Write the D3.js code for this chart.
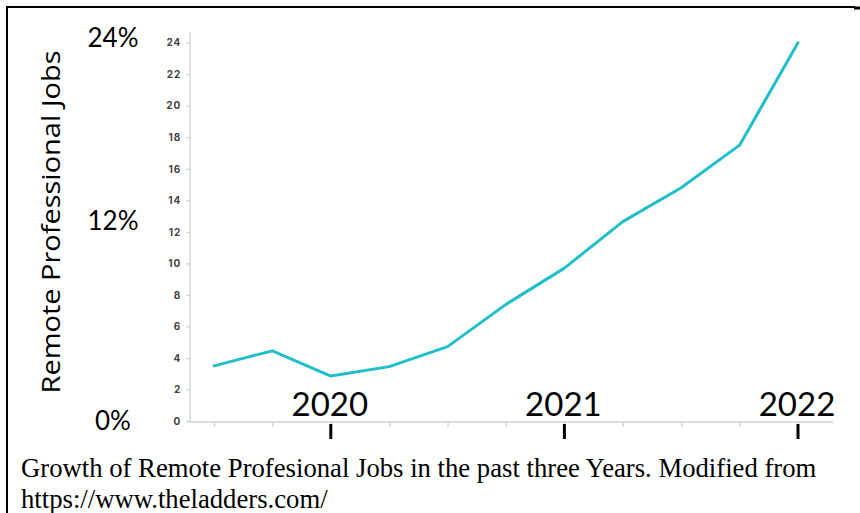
<!DOCTYPE html>
<html>
<head>
<meta charset="utf-8">
<script src="https://cdn.jsdelivr.net/npm/d3@7"></script>
<style>
  html, body { margin: 0; padding: 0; background: #fff; }
  svg { display: block; }
</style>
</head>
<body>
<svg id="chart" width="860" height="513"></svg>
<script>
// ---- data ----
const quarters = ["2019 Q3","2019 Q4","2020 Q1","2020 Q2","2020 Q3","2020 Q4","2021 Q1","2021 Q2","2021 Q3","2021 Q4","2022 Q1"];
const remoteJobs = [3.5, 4.45, 2.85, 3.45, 4.72, 7.4, 9.7, 12.65, 14.8, 17.5, 24.0];
const yTicks = [0, 2, 4, 6, 8, 10, 12, 14, 16, 18, 20, 22, 24];
const yearLabels = ["2020", "2021", "2022"];
const yearQuarters = ["2020 Q1", "2021 Q1", "2022 Q1"];
const pctValues = [24, 12, 0];
const pctLabels = ["24%", "12%", "0%"];
const yTitle = "Remote Professional Jobs";
const captionLines = ["Growth of Remote Profesional Jobs in the past three Years. Modified from", "https://www.theladders.com/"];

// ---- layout ----
const svg = d3.select("#chart");
const axisX0 = 190, axisX1 = 833, axisYTop = 32;
const x = d3.scalePoint().domain(quarters).range([214, 798]);
const y = d3.scaleLinear().domain([0, 24]).range([421, 42.7]);
const pctY = d3.scaleLinear().domain([0, 12, 24]).range([430, 230, 47]);

// frame
svg.append("line").attr("x1", 7).attr("y1", 6).attr("x2", 7).attr("y2", 513)
  .attr("stroke", "#000").attr("stroke-width", 2);
svg.append("line").attr("x1", 6).attr("y1", 7).attr("x2", 855).attr("y2", 7)
  .attr("stroke", "#000").attr("stroke-width", 2);
svg.append("line").attr("x1", 854).attr("y1", 8).attr("x2", 860).attr("y2", 8)
  .attr("stroke", "#000").attr("stroke-width", 3);

// y axis
const yAxis = d3.axisLeft(y).tickValues(yTicks).tickSize(4).tickPadding(5);
const gy = svg.append("g").attr("transform", `translate(${axisX0},0)`).call(yAxis);
gy.select(".domain").remove();
gy.selectAll(".tick line").attr("stroke", "#ccc");
gy.selectAll(".tick text").attr("fill", "#444")
  .style("font-family", "Inter, 'Open Sans', sans-serif")
  .style("font-weight", "700").style("font-size", "10px")
  .style("letter-spacing", "0.8px");
svg.append("line").attr("x1", axisX0).attr("x2", axisX0)
  .attr("y1", axisYTop).attr("y2", y(0))
  .attr("stroke", "#d0d0d0").attr("stroke-width", 1.3);

// x axis
const xAxis = d3.axisBottom(x).tickSize(5).tickFormat("");
const gx = svg.append("g").attr("transform", `translate(0,${y(0) + 1})`).call(xAxis);
gx.select(".domain").remove();
gx.selectAll(".tick line").attr("stroke", "#ccc").attr("stroke-width", 1.2);
svg.append("line").attr("x1", axisX0).attr("x2", axisX1)
  .attr("y1", y(0) + 1).attr("y2", y(0) + 1)
  .attr("stroke", "#d0d0d0").attr("stroke-width", 1.3);

// major year ticks
svg.selectAll(".yeartick").data(yearQuarters).enter().append("line")
  .attr("class", "yeartick")
  .attr("x1", d => x(d)).attr("x2", d => x(d))
  .attr("y1", y(0) + 3).attr("y2", y(0) + 18)
  .attr("stroke", "#000").attr("stroke-width", 3);

// year labels
svg.selectAll(".yearlabel").data(yearLabels).enter().append("text")
  .attr("class", "yearlabel")
  .attr("x", (d, i) => x(yearQuarters[i]) - 1)
  .attr("y", y(0) - 5)
  .attr("text-anchor", "middle")
  .style("font-family", "Lato, 'Open Sans', sans-serif")
  .style("font-size", "33px")
  .attr("fill", "#000")
  .text(d => d);

// line
const line = d3.line().x((d, i) => x(quarters[i])).y(d => y(d));
svg.append("path").datum(remoteJobs)
  .attr("d", line)
  .attr("fill", "none")
  .attr("stroke", "#20bfca")
  .attr("stroke-width", 3)
  .attr("stroke-linejoin", "round")
  .attr("stroke-linecap", "round");

// percent labels
svg.selectAll(".pct").data(pctValues).enter().append("text")
  .attr("class", "pct")
  .attr("x", 113)
  .attr("y", d => pctY(d))
  .attr("text-anchor", "middle")
  .style("font-family", "Lato, 'Open Sans', sans-serif")
  .style("font-size", "26px")
  .attr("fill", "#000")
  .text((d, i) => pctLabels[i]);

// y title
svg.append("text")
  .attr("transform", "translate(60,222) rotate(-90)")
  .attr("text-anchor", "middle")
  .style("font-family", "'Open Sans', Lato, sans-serif")
  .style("font-size", "25px")
  .attr("textLength", 343)
  .attr("lengthAdjust", "spacingAndGlyphs")
  .attr("fill", "#000")
  .text(yTitle);

// caption
svg.selectAll(".caption").data(captionLines).enter().append("text")
  .attr("class", "caption")
  .attr("x", 21)
  .attr("y", (d, i) => 477 + i * 31)
  .style("font-family", "'Liberation Serif', 'Times New Roman', serif")
  .style("font-size", "26.7px")
  .attr("fill", "#000")
  .text(d => d);
</script>
</body>
</html>
